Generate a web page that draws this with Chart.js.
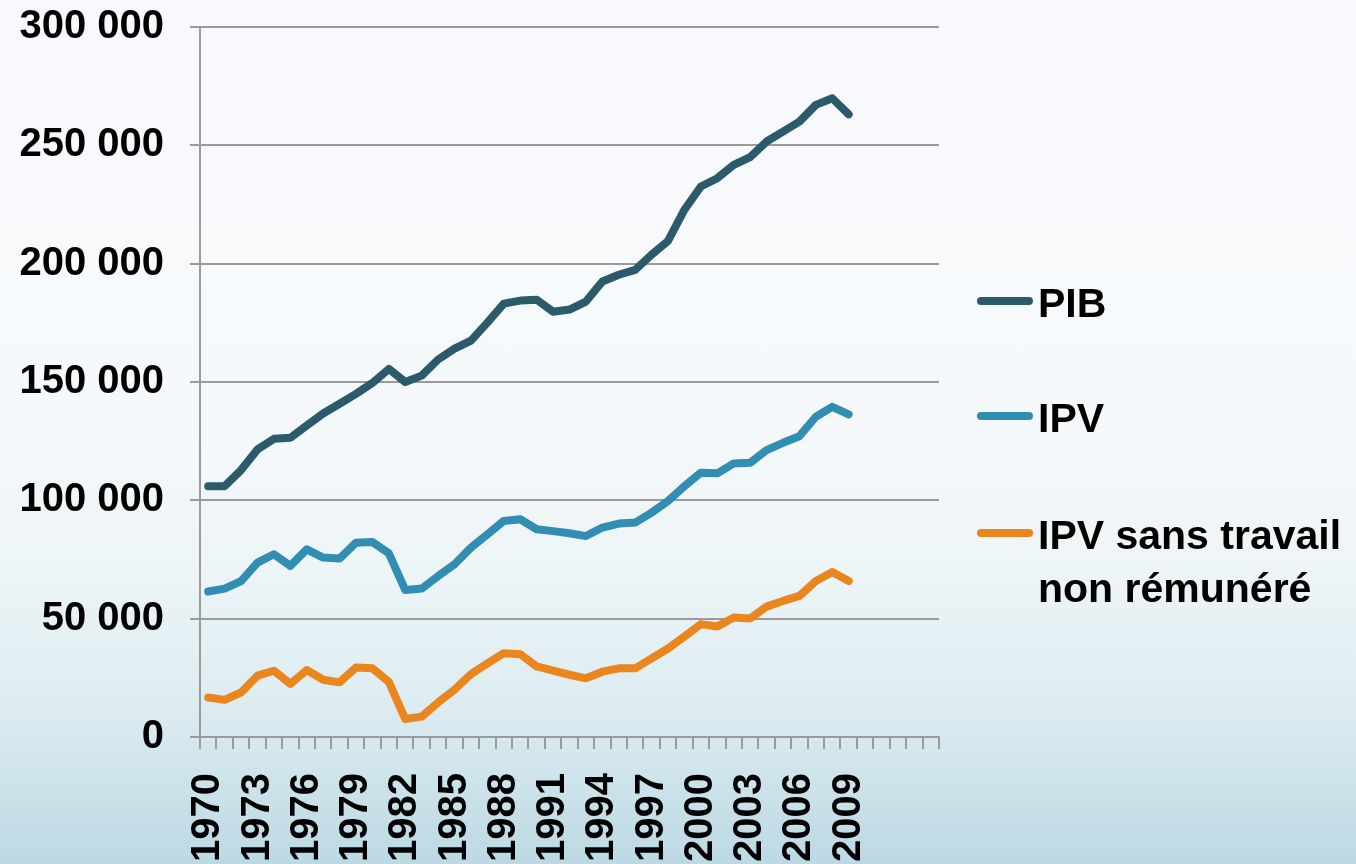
<!DOCTYPE html>
<html lang="fr">
<head>
<meta charset="utf-8">
<title>PIB et IPV</title>
<script src="https://cdn.jsdelivr.net/npm/chart.js@4.4.1/dist/chart.umd.min.js"></script>
<style>
    html, body {
        margin: 0;
        padding: 0;
        width: 1356px;
        height: 864px;
        overflow: hidden;
    }
    body {
        background: linear-gradient(180deg, #f9f9fd 0%, #f6f9fb 45%, #eef5f7 65%, #dcecf1 82%, #bcd9e3 100%);
        font-family: "Liberation Sans", Arial, sans-serif;
        position: relative;
    }
    #wrap {
        position: absolute;
        left: 0;
        top: 0;
        width: 1356px;
        height: 864px;
    }
    .legend-item {
        position: absolute;
        left: 977px;
        padding-left: 61px;
        font-weight: bold;
        font-size: 41px;
        line-height: 53px;
        color: #000;
        white-space: nowrap;
    }
    .legend-item .swatch {
        position: absolute;
        left: 0;
        top: 20px;
        width: 56px;
        height: 8px;
        border-radius: 4px;
    }
</style>
</head>
<body>
<div id="wrap"><canvas id="Chart" width="1356" height="864"></canvas></div>
<div id="legend"></div>
<script>
// years on the category axis (the last five slots stay empty, as in the original)
const years = [];
for (let y = 1970; y <= 2009; y++) years.push(String(y));
const emptySlots = ['', '', '', '', ''];
const categories = years.concat(emptySlots);

const pibValues = [
    106000, 106000, 112800, 121500, 126000, 126400, 131600, 136700, 140800, 145000,
    149600, 155500, 150000, 152700, 159500, 164100, 167500, 175100, 183100, 184400,
    184800, 179700, 180600, 184000, 192500, 195300, 197400, 203800, 209600, 222800,
    232600, 236100, 241700, 245000, 251600, 255800, 260000, 267100, 269900, 263100
];
const ipvValues = [
    61500, 62700, 65900, 73700, 77200, 72300, 79300, 75800, 75400, 82100,
    82400, 77600, 62100, 62700, 68000, 73000, 80000, 85600, 91300, 92000,
    87800, 87000, 86100, 84900, 88500, 90200, 90600, 94800, 99700, 106000,
    111700, 111400, 115600, 115900, 121200, 124300, 127100, 135300, 139500, 136300
];
const ipvSansTravailValues = [
    16700, 15700, 18800, 25900, 28000, 22400, 28300, 24200, 23100, 29400,
    29000, 23300, 7600, 8600, 14600, 20000, 26600, 31100, 35400, 35000,
    29800, 28000, 26300, 24800, 27600, 29000, 29000, 33200, 37400, 42500,
    47700, 46700, 50500, 50100, 55100, 57500, 59600, 65900, 69700, 65900
];

const seriesNames = ['PIB', 'IPV', 'IPV sans travail\nnon rémunéré'];
const seriesColors = ['#2b5b6b', '#318db1', '#e9861e'];
const yTicks = [0, 50000, 100000, 150000, 200000, 250000, 300000];

function formatThousands(v) {
    return String(v).replace(/\B(?=(\d{3})+(?!\d))/g, ' ');
}

const gridGrey = '#9b9b9b';
const axisFont = { family: '"Liberation Sans", Arial, sans-serif', size: 40, weight: 'bold' };

const seriesData = [pibValues, ipvValues, ipvSansTravailValues];
const datasets = seriesData.map((values, i) => ({
    label: seriesNames[i],
    data: values,
    borderColor: seriesColors[i],
    backgroundColor: seriesColors[i],
    borderWidth: 8,
    borderCapStyle: 'round',
    borderJoinStyle: 'round',
    pointRadius: 0,
    tension: 0,
    fill: false
}));

const ctx = document.getElementById('Chart').getContext('2d');

const myChart = new Chart(ctx, {
    type: 'line',
    data: {
        labels: categories,
        datasets: datasets
    },
    options: {
        responsive: false,
        animation: false,
        events: [],
        layout: {
            padding: { left: 0, right: 417, top: 27, bottom: 0 }
        },
        plugins: {
            legend: { display: false },
            tooltip: { enabled: false }
        },
        scales: {
            x: {
                type: 'category',
                offset: true,
                grid: {
                    offset: true,
                    drawOnChartArea: false,
                    drawTicks: true,
                    tickLength: 12,
                    color: gridGrey,
                    lineWidth: 2
                },
                border: { color: gridGrey, width: 2 },
                ticks: {
                    autoSkip: false,
                    minRotation: 90,
                    maxRotation: 90,
                    padding: 24,
                    color: '#000',
                    font: axisFont,
                    callback: function (val, idx) {
                        return idx % 3 === 0 ? categories[idx] : '';
                    }
                },
                afterFit: function (scale) {
                    scale.height = 127;
                    scale.paddingLeft = 0;
                    scale.paddingRight = 0;
                }
            },
            y: {
                min: 0,
                max: 300000,
                afterBuildTicks: function (scale) {
                    scale.ticks = yTicks.map(v => ({ value: v }));
                },
                grid: {
                    drawTicks: true,
                    tickLength: 10,
                    color: gridGrey,
                    lineWidth: 2
                },
                border: { color: gridGrey, width: 2 },
                ticks: {
                    padding: 26,
                    color: '#000',
                    font: axisFont,
                    callback: function (val) {
                        return formatThousands(val);
                    }
                },
                afterFit: function (scale) {
                    scale.width = 200;
                    scale.paddingTop = 0;
                    scale.paddingBottom = 0;
                }
            }
        }
    }
});

// legend drawn as html next to the plot
const legendTops = [277, 392, 509];
const legendEl = document.getElementById('legend');
myChart.data.datasets.forEach((ds, i) => {
    const item = document.createElement('div');
    item.className = 'legend-item';
    item.style.top = legendTops[i] + 'px';
    const sw = document.createElement('span');
    sw.className = 'swatch';
    sw.style.background = ds.borderColor;
    item.appendChild(sw);
    ds.label.split('\n').forEach((line, j) => {
        if (j > 0) item.appendChild(document.createElement('br'));
        item.appendChild(document.createTextNode(line));
    });
    legendEl.appendChild(item);
});
</script>
</body>
</html>
